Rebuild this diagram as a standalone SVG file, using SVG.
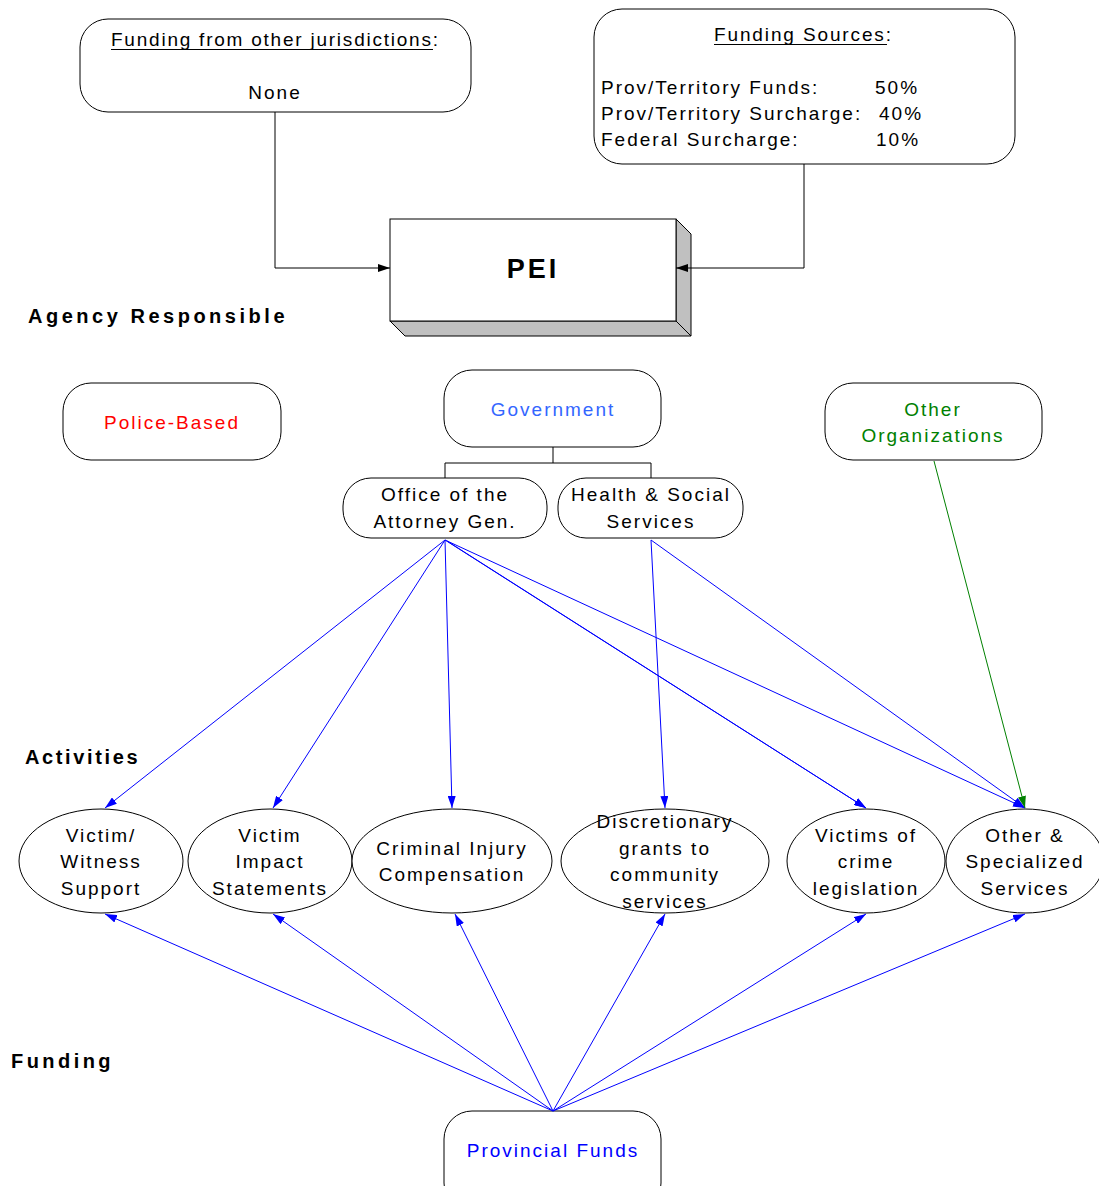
<svg xmlns="http://www.w3.org/2000/svg" width="1099" height="1186" viewBox="0 0 1099 1186">
<defs>
<marker id="ab" viewBox="0 0 12 8" refX="12" refY="4" markerWidth="12" markerHeight="8" markerUnits="userSpaceOnUse" orient="auto"><path d="M0,0 L12,4 L0,8 z" fill="#0000ff"/></marker>
<marker id="ak" viewBox="0 0 12 8" refX="12" refY="4" markerWidth="14" markerHeight="8" markerUnits="userSpaceOnUse" orient="auto"><path d="M0,0 L12,4 L0,8 z" fill="#000"/></marker>
<marker id="ag" viewBox="0 0 12 8" refX="12" refY="4" markerWidth="12" markerHeight="8" markerUnits="userSpaceOnUse" orient="auto"><path d="M0,0 L12,4 L0,8 z" fill="#008000"/></marker>
</defs>
<style>
text{font-family:"Liberation Sans",Arial,sans-serif;font-size:19px;letter-spacing:2px;fill:#000}
.c{text-anchor:middle}
.h{font-weight:bold;font-size:20px;letter-spacing:3.5px}
.box{fill:#fff;stroke:#000;stroke-width:1}
.bl{stroke:#0000ff;stroke-width:1;fill:none;marker-end:url(#ab)}
.k{stroke:#000;stroke-width:1;fill:none}
</style>
<rect width="1099" height="1186" fill="#fff"/>

<g id="other-jurisdictions">
<rect class="box" x="80" y="19" width="391" height="93" rx="28"/>
<text x="111" y="46" textLength="329" lengthAdjust="spacing">Funding from other jurisdictions:</text>
<line x1="111" y1="49.5" x2="433" y2="49.5" stroke="#000"/>
<text class="c" x="275" y="99">None</text>
</g>

<g id="funding-sources">
<rect class="box" x="594" y="9" width="421" height="155" rx="28"/>
<text x="714" y="41" textLength="179" lengthAdjust="spacing">Funding Sources:</text>
<line x1="714" y1="44.5" x2="887" y2="44.5" stroke="#000"/>
<text x="601" y="94">Prov/Territory Funds:</text><text x="875" y="94">50%</text>
<text x="601" y="120">Prov/Territory Surcharge:</text><text x="879" y="120">40%</text>
<text x="601" y="146">Federal Surcharge:</text><text x="876" y="146">10%</text>
</g>

<g id="pei">
<polygon points="676,219 691,234 691,336 676,321" fill="#c0c0c0" stroke="#000"/>
<polygon points="390,321 676,321 691,336 405,336" fill="#c0c0c0" stroke="#000"/>
<rect class="box" x="390" y="219" width="286" height="102"/>
<text class="c" x="533" y="278" style="font-weight:bold;font-size:27px;letter-spacing:3px">PEI</text>
</g>

<text class="h" x="28" y="323" textLength="260" lengthAdjust="spacing">Agency Responsible</text>
<text class="h" x="25" y="764" textLength="116" lengthAdjust="spacing">Activities</text>
<text class="h" x="11" y="1068" textLength="103" lengthAdjust="spacing">Funding</text>

<g id="police-based">
<rect class="box" x="63" y="383" width="218" height="77" rx="28"/>
<text class="c" x="172" y="429" style="fill:#ff0000">Police-Based</text>
</g>
<g id="government">
<rect class="box" x="444" y="370" width="217" height="77" rx="28"/>
<text class="c" x="553" y="416" style="fill:#3366ff">Government</text>
</g>
<g id="other-organizations">
<rect class="box" x="825" y="383" width="217" height="77" rx="28"/>
<text class="c" x="933" y="416" style="fill:#008000">Other</text>
<text class="c" x="933" y="442" style="fill:#008000">Organizations</text>
</g>
<g id="attorney-general">
<rect class="box" x="343" y="478" width="204" height="60" rx="28"/>
<text class="c" x="445" y="501">Office of the</text>
<text class="c" x="445" y="528">Attorney Gen.</text>
</g>
<g id="health-social">
<rect class="box" x="558" y="478" width="185" height="60" rx="28"/>
<text class="c" x="651" y="501">Health &amp; Social</text>
<text class="c" x="651" y="528">Services</text>
</g>

<g id="victim-witness">
<ellipse class="box" cx="101" cy="861" rx="82" ry="52"/>
<text class="c" x="101" y="842">Victim/</text>
<text class="c" x="101" y="868">Witness</text>
<text class="c" x="101" y="895">Support</text>
</g>
<g id="victim-impact">
<ellipse class="box" cx="270" cy="861" rx="82" ry="52"/>
<text class="c" x="270" y="842">Victim</text>
<text class="c" x="270" y="868">Impact</text>
<text class="c" x="270" y="895">Statements</text>
</g>
<g id="criminal-injury">
<ellipse class="box" cx="452" cy="861" rx="100" ry="52"/>
<text class="c" x="452" y="855">Criminal Injury</text>
<text class="c" x="452" y="881">Compensation</text>
</g>
<g id="discretionary">
<ellipse class="box" cx="665" cy="861" rx="104" ry="52"/>
<text class="c" x="665" y="828">Discretionary</text>
<text class="c" x="665" y="855">grants to</text>
<text class="c" x="665" y="881">community</text>
<text class="c" x="665" y="908">services</text>
</g>
<g id="victims-legislation">
<ellipse class="box" cx="866" cy="861" rx="79" ry="52"/>
<text class="c" x="866" y="842">Victims of</text>
<text class="c" x="866" y="868">crime</text>
<text class="c" x="866" y="895">legislation</text>
</g>
<g id="other-specialized">
<ellipse class="box" cx="1025" cy="861" rx="79" ry="52"/>
<text class="c" x="1025" y="842">Other &amp;</text>
<text class="c" x="1025" y="868">Specialized</text>
<text class="c" x="1025" y="895">Services</text>
</g>

<g id="provincial-funds">
<rect class="box" x="444" y="1111" width="217" height="100" rx="28"/>
<text class="c" x="553" y="1157" style="fill:#0000ff">Provincial Funds</text>
</g>

<g id="connectors">
<path class="k" d="M275,112 V268 H390" marker-end="url(#ak)"/>
<path class="k" d="M804,164 V268 H676" marker-end="url(#ak)"/>
<path class="k" d="M553,447 V463 M445,478 V463 H651 V478"/>
<line class="bl" x1="445" y1="540" x2="105" y2="808"/>
<line class="bl" x1="445" y1="540" x2="273" y2="808"/>
<line class="bl" x1="445" y1="540" x2="452" y2="808"/>
<line class="bl" x1="445" y1="540" x2="866" y2="808"/>
<line class="bl" x1="447" y1="541" x2="866" y2="808"/>
<line class="bl" x1="445" y1="540" x2="1025" y2="808"/>
<line class="bl" x1="651" y1="540" x2="665" y2="808"/>
<line class="bl" x1="651" y1="540" x2="1025" y2="808"/>
<line x1="934" y1="461" x2="1025" y2="808" stroke="#008000" stroke-width="1" marker-end="url(#ag)"/>
<line class="bl" x1="553" y1="1111" x2="105" y2="914"/>
<line class="bl" x1="553" y1="1111" x2="273" y2="914"/>
<line class="bl" x1="553" y1="1111" x2="455" y2="914"/>
<line class="bl" x1="553" y1="1111" x2="665" y2="914"/>
<line class="bl" x1="553" y1="1111" x2="866" y2="914"/>
<line class="bl" x1="553" y1="1111" x2="1025" y2="914"/>
</g>
</svg>
